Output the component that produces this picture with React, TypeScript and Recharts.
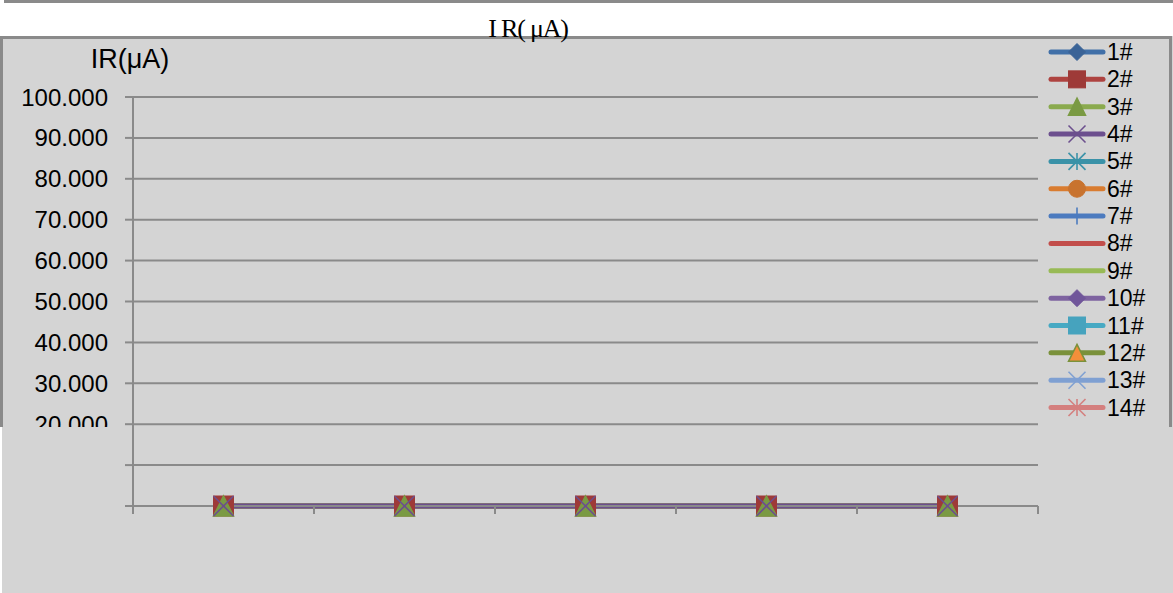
import React from 'react';
import { LineChart, Line, XAxis, YAxis, CartesianGrid, Customized } from 'recharts';

const categories = ['1', '2', '3', '4', '5'];
const xBounds = [0, 1, 2, 3, 4, 5];
const yTicks = [0, 10, 20, 30, 40, 50, 60, 70, 80, 90, 100];

const s1 = [0, 0, 0, 0, 0];
const s2 = [0, 0, 0, 0, 0];
const s3 = [0, 0, 0, 0, 0];
const s4 = [0, 0, 0, 0, 0];
const s5 = [null, null, null, null, null];
const s6 = [null, null, null, null, null];
const s7 = [null, null, null, null, null];
const s8 = [null, null, null, null, null];
const s9 = [null, null, null, null, null];
const s10 = [null, null, null, null, null];
const s11 = [null, null, null, null, null];
const s12 = [null, null, null, null, null];
const s13 = [null, null, null, null, null];
const s14 = [null, null, null, null, null];

type Kind = 'diamond' | 'square' | 'triangle' | 'x' | 'star' | 'circle' | 'plus' | 'none';

interface SeriesDef {
  key: string;
  name: string;
  values: (number | null)[];
  line: string;
  fill: string;
  edge: string;
  kind: Kind;
}

const series: SeriesDef[] = [
  { key: 's1', name: '1#', values: s1, line: '#4170A8', fill: '#3A6397', edge: '#3A6397', kind: 'diamond' },
  { key: 's2', name: '2#', values: s2, line: '#AE4340', fill: '#9E3A38', edge: '#9E3A38', kind: 'square' },
  { key: 's3', name: '3#', values: s3, line: '#8AAA4E', fill: '#7A9A43', edge: '#7A9A43', kind: 'triangle' },
  { key: 's4', name: '4#', values: s4, line: '#6C4F8E', fill: '#6C4F8E', edge: '#6C4F8E', kind: 'x' },
  { key: 's5', name: '5#', values: s5, line: '#3A92A8', fill: '#3A92A8', edge: '#3A92A8', kind: 'star' },
  { key: 's6', name: '6#', values: s6, line: '#D97C30', fill: '#C8732F', edge: '#C8732F', kind: 'circle' },
  { key: 's7', name: '7#', values: s7, line: '#4C7BBF', fill: '#4C7BBF', edge: '#4C7BBF', kind: 'plus' },
  { key: 's8', name: '8#', values: s8, line: '#C24E4B', fill: '#C24E4B', edge: '#C24E4B', kind: 'none' },
  { key: 's9', name: '9#', values: s9, line: '#98BA56', fill: '#98BA56', edge: '#98BA56', kind: 'none' },
  { key: 's10', name: '10#', values: s10, line: '#7E63A0', fill: '#70569A', edge: '#70569A', kind: 'diamond' },
  { key: 's11', name: '11#', values: s11, line: '#47A9C3', fill: '#46A3BE', edge: '#46A3BE', kind: 'square' },
  { key: 's12', name: '12#', values: s12, line: '#7A913B', fill: '#F48F3A', edge: '#7A913B', kind: 'triangle' },
  { key: 's13', name: '13#', values: s13, line: '#7FA0D2', fill: '#7FA0D2', edge: '#7FA0D2', kind: 'x' },
  { key: 's14', name: '14#', values: s14, line: '#D47F7E', fill: '#D47F7E', edge: '#D47F7E', kind: 'star' },
];

const data = categories.map((c, i) => {
  const row: Record<string, number | string | null> = { cat: c, pos: i + 0.5 };
  series.forEach((s) => {
    row[s.key] = s.values[i];
  });
  return row;
});

const GRID = '#8a8a8a';
const PANEL = '#d4d4d4';
const SANS = '"Liberation Sans", Arial, sans-serif';

function Marker({ kind, cx, cy, fill, edge, size }: { kind: Kind; cx: number; cy: number; fill: string; edge: string; size: number }) {
  const h = size / 2;
  switch (kind) {
    case 'diamond':
      return <polygon points={`${cx},${cy - h} ${cx + h},${cy} ${cx},${cy + h} ${cx - h},${cy}`} fill={fill} stroke={edge} strokeWidth={1} />;
    case 'square':
      return <rect x={cx - h} y={cy - h} width={size} height={size} fill={fill} stroke={edge} strokeWidth={1} />;
    case 'triangle':
      return <polygon points={`${cx},${cy - h} ${cx + h},${cy + h} ${cx - h},${cy + h}`} fill={fill} stroke={edge} strokeWidth={1.5} />;
    case 'x':
      return (
        <g stroke={edge} strokeWidth={1.6}>
          <line x1={cx - h} y1={cy - h} x2={cx + h} y2={cy + h} />
          <line x1={cx - h} y1={cy + h} x2={cx + h} y2={cy - h} />
        </g>
      );
    case 'star':
      return (
        <g stroke={edge} strokeWidth={1.6}>
          <line x1={cx - h} y1={cy - h} x2={cx + h} y2={cy + h} />
          <line x1={cx - h} y1={cy + h} x2={cx + h} y2={cy - h} />
          <line x1={cx} y1={cy - h} x2={cx} y2={cy + h} />
        </g>
      );
    case 'circle':
      return <circle cx={cx} cy={cy} r={h} fill={fill} stroke={edge} strokeWidth={1} />;
    case 'plus':
      return (
        <g stroke={edge} strokeWidth={1.6}>
          <line x1={cx} y1={cy - h} x2={cx} y2={cy + h} />
          <line x1={cx - h} y1={cy} x2={cx + h} y2={cy} />
        </g>
      );
    default:
      return null;
  }
}

const makeDot = (s: SeriesDef) => (props: any) => {
  const { cx, cy, index } = props;
  if (cx == null || cy == null || props.value == null) return <g key={`${s.key}-${index}`} />;
  return (
    <g key={`${s.key}-${index}`}>
      <Marker kind={s.kind} cx={cx} cy={cy} fill={s.fill} edge={s.edge} size={20} />
    </g>
  );
};

const Titles = () => (
  <g>
    <text x={528} y={37} textAnchor="middle" fontFamily='"Liberation Serif", serif' fontSize={26} letterSpacing={-1.2} fill="#000">
      I R( μA)
    </text>
    <text x={130} y={68} textAnchor="middle" fontFamily={SANS} fontSize={27} fill="#000">
      IR(μA)
    </text>
  </g>
);

const LegendBox = () => (
  <g>
    {series.map((s, i) => {
      const y = 52 + i * 27.35;
      return (
        <g key={s.key}>
          <line x1={1051} y1={y} x2={1103} y2={y} stroke={s.line} strokeWidth={5} strokeLinecap="round" />
          <Marker kind={s.kind} cx={1077} cy={y} fill={s.fill} edge={s.edge} size={17} />
          <text x={1107} y={y + 8} fontFamily={SANS} fontSize={23} fill="#000">
            {s.name}
          </text>
        </g>
      );
    })}
  </g>
);

const box = (left: number, top: number, width: number, height: number, bg: string, z = 0): React.CSSProperties => ({
  position: 'absolute',
  left,
  top,
  width,
  height,
  background: bg,
  zIndex: z,
});

export default function App() {
  return (
    <div style={{ position: 'absolute', left: 0, top: 0, width: 1173, height: 593, background: '#fff', overflow: 'hidden' }}>
      <div style={box(4, 0, 1169, 3, GRID)} />
      <div style={box(0, 36, 1173, 557, PANEL)} />
      <div style={box(0, 36, 1172, 3, GRID)} />
      <div style={box(0, 36, 3, 391, GRID)} />
      <div style={box(1169, 36, 3, 391, GRID)} />
      <div style={box(0, 427, 2, 166, '#fff')} />
      <div style={{ position: 'absolute', left: 0, top: 0, zIndex: 1 }}>
        <LineChart width={1173} height={593} data={data} margin={{ top: 97, right: 135, bottom: 57, left: 0 }}>
          <CartesianGrid vertical={false} stroke={GRID} strokeWidth={2} />
          <XAxis
            dataKey="pos"
            type="number"
            domain={[0, 5]}
            ticks={xBounds}
            tickFormatter={() => ''}
            tickSize={8}
            height={30}
            axisLine={{ stroke: GRID, strokeWidth: 2 }}
            tickLine={{ stroke: GRID, strokeWidth: 2 }}
          />
          <YAxis
            type="number"
            domain={[0, 100]}
            ticks={yTicks}
            width={133}
            tickSize={8}
            tickMargin={17}
            tickFormatter={(v: number) => v.toFixed(3)}
            tick={{ fill: '#000', fontSize: 24, fontFamily: SANS }}
            axisLine={{ stroke: GRID, strokeWidth: 2 }}
            tickLine={{ stroke: GRID, strokeWidth: 2 }}
          />
          {series.map((s) => (
            <Line
              key={s.key}
              type="linear"
              dataKey={s.key}
              name={s.name}
              stroke={s.line}
              strokeWidth={5}
              dot={makeDot(s)}
              activeDot={false}
              isAnimationActive={false}
            />
          ))}
          <Customized component={Titles} />
          <Customized component={LegendBox} />
        </LineChart>
      </div>
      <div style={box(2, 427, 122, 166, PANEL, 2)} />
    </div>
  );
}
